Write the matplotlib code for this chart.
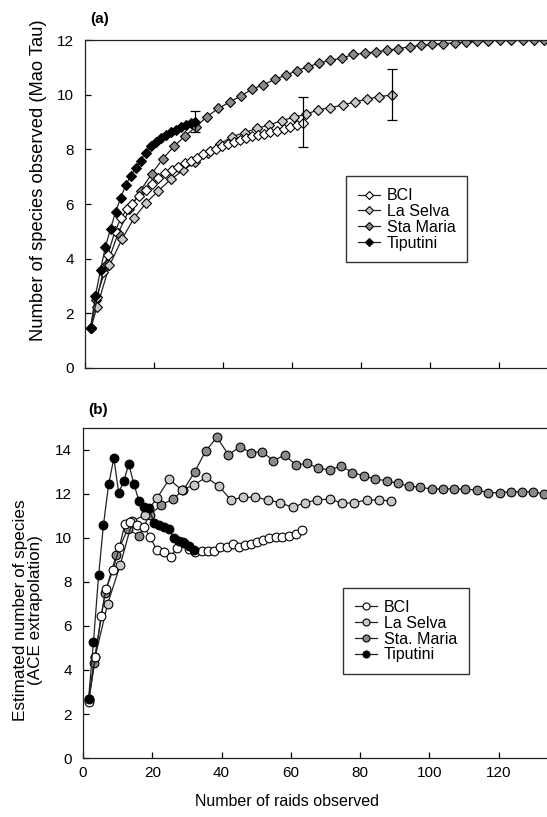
import matplotlib
matplotlib.use("Agg")
import matplotlib.pyplot as plt

plt.rcParams['font.family'] = ['Liberation Sans', 'DejaVu Sans']

# x positions (number of raids) per site
x_bci = [1.6, 3.6, 5.2, 6.6, 8.7, 10.5, 12.1, 13.6, 15.7, 17.6, 19.3, 21.3, 23.3, 25.3, 27.0,
         28.9, 30.7, 32.4, 34.3, 36.2, 37.9, 39.6, 41.5, 43.2, 45.1, 46.8, 48.4, 50.3, 52.0,
         53.8, 55.7, 57.6, 59.6, 61.4, 63.3]
x_selva = [1.7, 3.5, 7.1, 10.7, 14.2, 17.8, 21.3, 24.9, 28.5, 32.0, 35.6, 39.2, 42.7, 46.3,
           49.8, 53.4, 57.0, 60.5, 64.1, 67.6, 71.2, 74.8, 78.3, 81.9, 85.4, 89.0]
x_maria = [1.6, 3.1, 6.4, 9.6, 12.9, 16.1, 19.3, 22.6, 25.9, 29.0, 32.2, 35.4, 38.7, 42.0,
           45.3, 48.4, 51.7, 55.0, 58.2, 61.5, 64.7, 68.0, 71.2, 74.6, 77.8, 81.1, 84.3, 87.7,
           90.9, 94.2, 97.4, 100.7, 103.9, 107.2, 110.4, 113.8, 117.0, 120.3, 123.5, 126.9,
           130.1, 133.2]
x_tip = [1.6, 3.0, 4.5, 5.9, 7.4, 8.9, 10.3, 11.8, 13.2, 14.7, 16.1, 17.6, 19.0, 20.5, 21.9,
         23.4, 24.8, 26.3, 27.7, 29.2, 30.6, 32.0]

# (a) observed species (Mao Tau)
obs_bci = [1.45, 2.6, 3.5, 4.15, 5.0, 5.5, 5.8, 6.0, 6.3, 6.52, 6.72, 6.94, 7.12, 7.25, 7.35,
           7.5, 7.58, 7.68, 7.82, 7.93, 8.03, 8.12, 8.2, 8.27, 8.34, 8.42, 8.48, 8.53, 8.56,
           8.62, 8.68, 8.75, 8.83, 8.9, 8.98]
obs_selva = [1.45, 2.24, 3.75, 4.71, 5.48, 6.05, 6.49, 6.9, 7.24, 7.55, 7.88, 8.2, 8.47, 8.61,
             8.77, 8.89, 9.05, 9.17, 9.29, 9.44, 9.53, 9.62, 9.74, 9.84, 9.93, 9.99]
obs_maria = [1.45, 2.5, 3.79, 4.93, 5.81, 6.49, 7.10, 7.66, 8.12, 8.49, 8.83, 9.20, 9.50, 9.73,
             9.96, 10.2, 10.36, 10.56, 10.71, 10.88, 11.03, 11.15, 11.27, 11.33, 11.48, 11.51,
             11.57, 11.63, 11.68, 11.76, 11.8, 11.84, 11.87, 11.90, 11.93, 11.95, 11.97, 11.99,
             12.0, 12.0, 12.0, 12.0]
obs_tip = [1.45, 2.63, 3.59, 4.42, 5.10, 5.71, 6.22, 6.68, 7.02, 7.31, 7.59, 7.88, 8.12, 8.27,
           8.4, 8.52, 8.62, 8.72, 8.8, 8.88, 8.95, 9.01]

# error bars at the last point (low, high)
err_tip = (8.63, 9.40)
err_bci = (8.07, 9.93)
err_selva = (9.07, 10.94)

# (b) ACE estimates
ace_bci = [2.55, 4.6, 6.45, 7.67, 8.55, 9.6, 10.62, 10.74, 10.59, 10.51, 10.06, 9.45, 9.38,
           9.12, 9.53, 9.83, 9.5, 9.38, 9.42, 9.42, 9.42, 9.6, 9.6, 9.73, 9.6, 9.68, 9.73, 9.8,
           9.91, 10.01, 10.06, 10.06, 10.09, 10.18, 10.36]
ace_selva = [2.65, 4.6, 7.0, 8.75, 10.75, 11.05, 11.8, 12.67, 12.18, 12.41, 12.76, 12.36, 11.73,
             11.85, 11.85, 11.73, 11.6, 11.39, 11.6, 11.73, 11.77, 11.58, 11.6, 11.73, 11.73,
             11.68]
ace_maria = [2.7, 4.3, 7.51, 9.23, 10.41, 10.1, 11.05, 11.5, 11.76, 12.18, 12.99, 13.95, 14.58,
             13.77, 14.15, 13.88, 13.92, 13.51, 13.77, 13.32, 13.39, 13.17, 13.09, 13.27, 12.97,
             12.82, 12.68, 12.6, 12.48, 12.36, 12.3, 12.23, 12.23, 12.23, 12.21, 12.18, 12.06,
             12.06, 12.1, 12.1, 12.1, 12.0]
ace_tip = [2.7, 5.25, 8.3, 10.6, 12.44, 13.62, 12.06, 12.6, 13.36, 12.45, 11.7, 11.42, 11.35,
           10.7, 10.6, 10.5, 10.4, 9.98, 9.85, 9.75, 9.65, 9.45]

colors = {'BCI': 'white', 'La Selva': '#c8c8c8', 'Sta Maria': '#8a8a8a', 'Tiputini': 'black'}

fig = plt.figure(figsize=(5.47, 8.17), dpi=100)
ax1 = fig.add_axes([0.1554, 0.5496, 0.8446, 0.4014])
ax2 = fig.add_axes([0.1518, 0.0722, 0.8482, 0.404])


def series(ax, x, y, fc, label, marker, ms):
    return ax.plot(x, y, color='#222222', lw=0.9, marker=marker, ms=ms, mfc=fc,
                   mec='black', mew=0.8, label=label)[0]


leg_kw = dict(loc='upper left', fontsize=11.5, frameon=True, fancybox=False,
              edgecolor='black', handlelength=1.4, handletextpad=0.4, labelspacing=0.05,
              borderpad=0.75, borderaxespad=0)

# panel (a)
sets_a = [('Sta Maria', x_maria, obs_maria), ('La Selva', x_selva, obs_selva),
          ('BCI', x_bci, obs_bci), ('Tiputini', x_tip, obs_tip)]
h = {}
for name, x, y in sets_a:
    h[name] = series(ax1, x, y, colors[name], name, 'D', 5.2)
for x, y, (lo, hi) in [(x_tip, obs_tip, err_tip), (x_bci, obs_bci, err_bci),
                       (x_selva, obs_selva, err_selva)]:
    ax1.errorbar([x[-1]], [y[-1]], yerr=[[y[-1] - lo], [hi - y[-1]]], fmt='none',
                 ecolor='black', elinewidth=0.9, capsize=3.3, capthick=0.9)
ax1.legend([h['BCI'], h['La Selva'], h['Sta Maria'], h['Tiputini']],
           ['BCI', 'La Selva', 'Sta Maria', 'Tiputini'],
           bbox_to_anchor=(0.565, 0.585), markerscale=0.85, **leg_kw)
ax1.set_ylim(0, 12)
ax1.set_xlim(0, 134)
ax1.set_yticks(range(0, 13, 2))
ax1.set_xticks(range(0, 121, 20))
ax1.set_xticklabels([])
ax1.set_ylabel('Number of species observed (Mao Tau)', fontsize=13.2)
ax1.yaxis.set_label_coords(-0.082, 0.573)
ax1.text(0.012, 1.052, '(a)', transform=ax1.transAxes, fontsize=11, fontweight='bold')

# panel (b)
sets_b = [('Sta Maria', x_maria, ace_maria), ('La Selva', x_selva, ace_selva),
          ('BCI', x_bci, ace_bci), ('Tiputini', x_tip, ace_tip)]
hb = {}
for name, x, y in sets_b:
    hb[name] = series(ax2, x, y, colors[name], name, 'o', 6.3)
ax2.legend([hb['BCI'], hb['La Selva'], hb['Sta Maria'], hb['Tiputini']],
           ['BCI', 'La Selva', 'Sta. Maria', 'Tiputini'],
           bbox_to_anchor=(0.56, 0.515), markerscale=0.8, **leg_kw)
ax2.set_ylim(0, 15)
ax2.set_xlim(0, 134)
ax2.set_yticks(range(0, 15, 2))
ax2.set_xticks(range(0, 121, 20))
ax2.set_ylabel('Estimated number of species\n(ACE extrapolation)', fontsize=12.3,
               linespacing=1.0)
ax2.yaxis.set_label_coords(-0.086, 0.448)
ax2.set_xlabel('Number of raids observed', fontsize=11.5)
ax2.xaxis.set_label_coords(0.44, -0.11)
ax2.text(0.012, 1.042, '(b)', transform=ax2.transAxes, fontsize=11, fontweight='bold')

for ax in (ax1, ax2):
    ax.spines['right'].set_visible(False)
    for s in ('left', 'bottom', 'top'):
        ax.spines[s].set_linewidth(0.9)
        ax.spines[s].set_color('#222222')
    ax.tick_params(direction='in', length=4, width=0.9, labelsize=11, pad=6)
    ax.tick_params(axis='y', pad=8)

fig.savefig('out.png', dpi=100)
